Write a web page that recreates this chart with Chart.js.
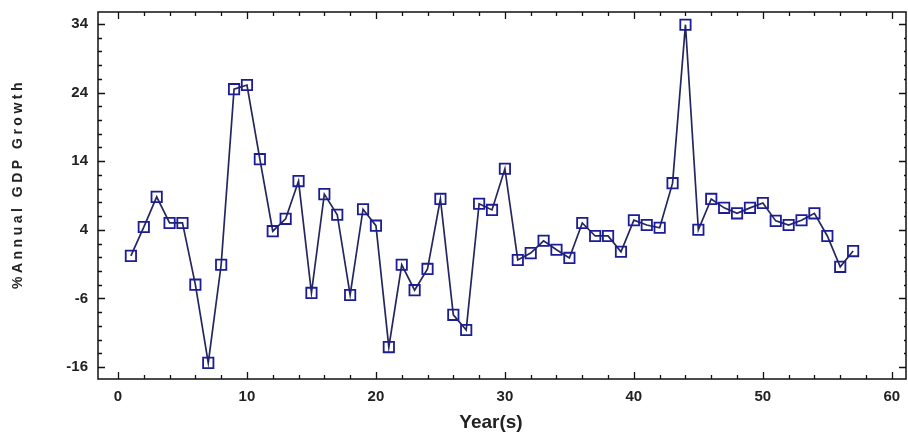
<!DOCTYPE html>
<html>
<head>
<meta charset="utf-8">
<script src="https://cdn.jsdelivr.net/npm/chart.js@4/dist/chart.umd.min.js"></script>
<style>
  html, body { margin: 0; padding: 0; background: #ffffff; }
  #wrap { width: 908px; height: 436px; position: relative; }
</style>
</head>
<body>
<div id="wrap"><canvas id="c"></canvas></div>
<script>
// ---- data ----
const years = [1,2,3,4,5,6,7,8,9,10,11,12,13,14,15,16,17,18,19,20,
               21,22,23,24,25,26,27,28,29,30,31,32,33,34,35,36,37,38,39,40,
               41,42,43,44,45,46,47,48,49,50,51,52,53,54,55,56,57];
const growth = [0.2, 4.4, 8.8, 5.0, 5.0, -4.0, -15.4, -1.1, 24.5, 25.1,
                14.3, 3.8, 5.6, 11.1, -5.2, 9.2, 6.2, -5.5, 7.0, 4.6,
                -13.1, -1.1, -4.8, -1.7, 8.5, -8.4, -10.6, 7.8, 6.9, 12.9,
                -0.4, 0.6, 2.4, 1.1, -0.1, 5.0, 3.1, 3.1, 0.8, 5.4,
                4.7, 4.3, 10.8, 33.9, 4.0, 8.5, 7.2, 6.4, 7.2, 7.9,
                5.3, 4.7, 5.4, 6.4, 3.1, -1.4, 0.9];
const xTickLabels = [0, 10, 20, 30, 40, 50, 60];
const yTickLabels = [-16, -6, 4, 14, 24, 34];
const xTitle = 'Year(s)';
const yTitle = '%Annual GDP Growth';

const points = years.map((y, i) => ({ x: y, y: growth[i] }));

const frameAndTicks = {
  id: 'frameAndTicks',
  afterDraw(chart) {
    const ctx = chart.ctx;
    const a = chart.chartArea;
    const xs = chart.scales.x, ys = chart.scales.y;
    ctx.save();
    ctx.strokeStyle = '#111111';
    ctx.lineWidth = 1.5;
    ctx.strokeRect(a.left, a.top, a.right - a.left, a.bottom - a.top);
    ctx.lineWidth = 1.3;
    ctx.beginPath();
    for (let v = 0; v <= 60; v += 2) {
      const px = Math.round(xs.getPixelForValue(v)) + 0.5;
      const len = (v % 10 === 0) ? 7 : 4;
      ctx.moveTo(px, a.bottom); ctx.lineTo(px, a.bottom - len);
      ctx.moveTo(px, a.top); ctx.lineTo(px, a.top + len);
    }
    for (let v = -16; v <= 34; v += 2) {
      const py = Math.round(ys.getPixelForValue(v)) + 0.5;
      const major = ((v + 16) % 10 === 0);
      const len = major ? 7 : 4;
      ctx.moveTo(a.left, py); ctx.lineTo(a.left + len, py);
      ctx.moveTo(a.right, py); ctx.lineTo(a.right - (major ? 7 : 2), py);
    }
    ctx.stroke();

    // axis titles
    ctx.fillStyle = '#222222';
    ctx.font = 'bold 19px "Liberation Sans", Arial, sans-serif';
    ctx.textAlign = 'center';
    ctx.textBaseline = 'middle';
    ctx.fillText(xTitle, 491, 423);

    ctx.save();
    ctx.translate(18, 184);
    ctx.rotate(-Math.PI / 2);
    ctx.font = 'bold 14px "Liberation Sans", Arial, sans-serif';
    try { ctx.letterSpacing = '3.5px'; } catch (e) {}
    ctx.textAlign = 'center';
    ctx.textBaseline = 'middle';
    ctx.fillText(yTitle, 0, 0);
    ctx.restore();
    ctx.restore();
  }
};

new Chart(document.getElementById('c'), {
  type: 'scatter',
  data: {
    datasets: [{
      data: points,
      showLine: true,
      borderColor: '#26265e',
      borderWidth: 1.7,
      pointStyle: 'rect',
      pointRadius: 7.3,
      pointHoverRadius: 7.3,
      pointBorderColor: '#1c1c96',
      pointBorderWidth: 1.8,
      pointBackgroundColor: 'rgba(255,255,255,0)',
      tension: 0
    }]
  },
  options: {
    responsive: true,
    maintainAspectRatio: false,
    animation: false,
    events: [],
    layout: { autoPadding: false, padding: { top: 12, right: 2, bottom: 0, left: 0 } },
    plugins: { legend: { display: false }, tooltip: { enabled: false } },
    scales: {
      x: {
        type: 'linear',
        min: -1.55,
        max: 61.1,
        grid: { display: false, drawTicks: false },
        border: { display: false },
        afterBuildTicks(scale) { scale.ticks = xTickLabels.map(v => ({ value: v })); },
        afterFit(scale) {
          scale.height = 57;
          scale.paddingLeft = 0; scale.paddingRight = 0;
          scale.paddingTop = 0; scale.paddingBottom = 0;
        },
        ticks: {
          padding: 9,
          color: '#222222',
          maxRotation: 0,
          font: { family: '"Liberation Sans", Arial, sans-serif', size: 15, weight: 'bold' }
        }
      },
      y: {
        type: 'linear',
        min: -17.75,
        max: 35.75,
        grid: { display: false, drawTicks: false },
        border: { display: false },
        afterBuildTicks(scale) { scale.ticks = yTickLabels.map(v => ({ value: v })); },
        afterFit(scale) {
          scale.width = 98;
          scale.paddingLeft = 0; scale.paddingRight = 0;
          scale.paddingTop = 0; scale.paddingBottom = 0;
        },
        ticks: {
          padding: 10,
          color: '#222222',
          font: { family: '"Liberation Sans", Arial, sans-serif', size: 15, weight: 'bold' }
        }
      }
    }
  },
  plugins: [frameAndTicks]
});
</script>
</body>
</html>
